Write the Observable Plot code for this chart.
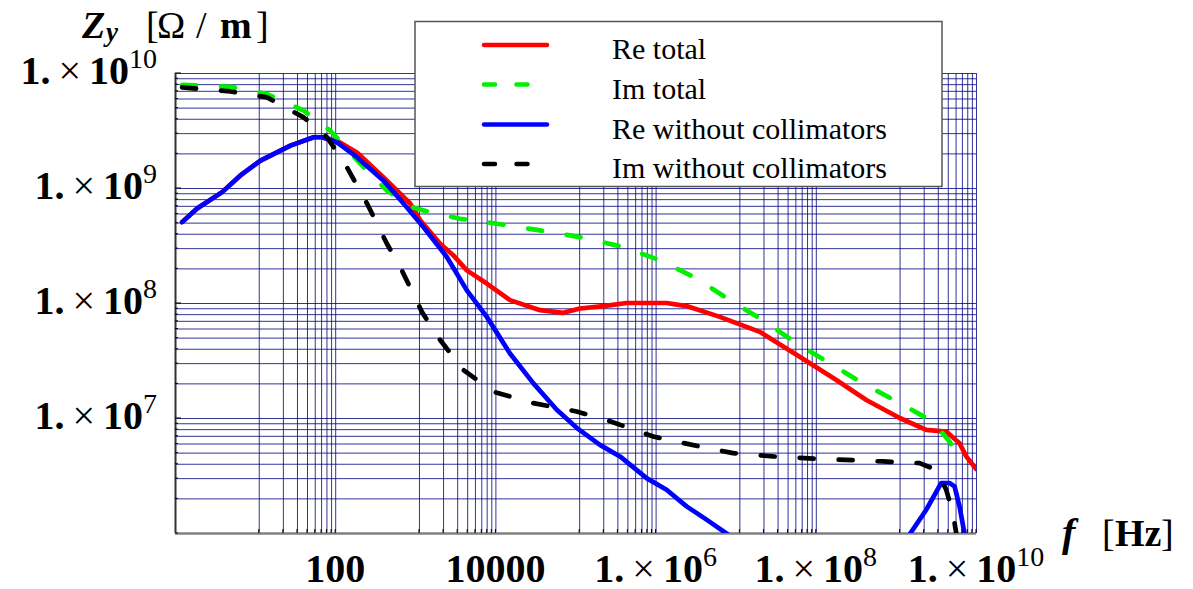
<!DOCTYPE html>
<html><head><meta charset="utf-8">
<script src="https://cdn.jsdelivr.net/npm/d3@7"></script>
<script src="https://cdn.jsdelivr.net/npm/@observablehq/plot@0.6"></script>
<style>
body{margin:0;background:#fff;}
#chart{position:relative;width:1193px;height:589px;}
</style></head><body><div id="chart"></div>
<script>
// ---- data ----
const reTotalF = [1.21,1.86,3.82,6.46,11.5,27.2,53,67.5,104,184,396,851,1135,2014,2950,4340,7700,15000,35600,69500,1.12e5,2.19e5,4.29e5,1.35e6,2.4e6,6.25e6,1.97e7,6.2e7,1.78e8,4.21e8,1.10e9,2.36e9,4.19e9,6.14e9,7.44e9,9.9e9];
const reTotalZ = [5.1e8,6.7e8,9.3e8,1.30e9,1.75e9,2.36e9,2.79e9,2.79e9,2.6e9,2.06e9,1.25e9,7.4e8,5.3e8,3.31e8,2.62e8,1.94e8,1.49e8,1.07e8,8.75e7,8.3e7,9.05e7,9.5e7,1.01e8,1.01e8,9.5e7,7.65e7,5.67e7,3.44e7,2.16e7,1.45e7,1.01e7,7.96e6,7.7e6,6.1e6,4.68e6,3.63e6];

const imTotalF = [1.21,4.85,13.9,39.8,85.7,203,436,894,1510,3580,10300,35600,1.12e5,3.89e5,1.11e6,3.2e6,8.3e6,2.16e7,5.65e7,1.47e8,3.82e8,1.10e9,2.85e9,4.6e9,5.85e9];
const imTotalZ = [7.98e9,7.67e9,6.63e9,4.75e9,3.18e9,1.64e9,9.6e8,6.9e8,6.2e8,5.46e8,4.94e8,4.32e8,3.78e8,3.10e8,2.38e8,1.65e8,1.07e8,7.16e7,4.5e7,3.03e7,2.02e7,1.36e7,9.4e6,6.3e6,4.83e6];

const reWithoutLowF = [1.21,1.86,3.82,6.46,11.5,27.2,53,67.5,104,184,396,703,1250,2440,4340,7700,15000,29400,57500,1.02e5,1.99e5,3.54e5,7.6e5,1.35e6,2.4e6,4.26e6,7.57e6,1.58e7];
const reWithoutLowZ = [5.1e8,6.7e8,9.3e8,1.30e9,1.75e9,2.36e9,2.79e9,2.79e9,2.52e9,1.87e9,1.17e9,7.4e8,4.6e8,2.54e8,1.30e8,7.65e7,3.68e7,2.02e7,1.19e7,8.3e6,5.9e6,4.68e6,3.03e6,2.40e6,1.72e6,1.32e6,1.0e6,7.1e5];
const reWithoutHighF = [1.26e9,1.46e9,2.36e9,3.63e9,4.6e9,5.32e9,6.14e9,7.08e9,7.5e9];
const reWithoutHighZ = [8.3e5,9.8e5,1.61e6,2.75e6,2.75e6,2.57e6,1.72e6,1.0e6,8.0e5];

const imWithoutF = [1.21,4.85,13.9,39.8,77.9,138,246,436,639,1190,2014,3940,9310,29400,1.02e5,2.41e5,9.2e5,3.52e6,9.15e6,2.88e7,1.0e8,6.8e8,1.95e9,3.15e9,4.19e9,5.07e9,5.58e9,5.8e9];
const imWithoutZ = [7.57e9,6.98e9,6.2e9,4.15e9,2.79e9,1.53e9,7.4e8,3.31e8,2.08e8,8.46e7,4.81e7,2.64e7,1.71e7,1.36e7,1.15e7,9.7e6,6.97e6,5.7e6,5.0e6,4.68e6,4.47e6,4.23e6,4.09e6,3.58e6,2.40e6,1.51e6,1.01e6,8e5];

const seriesNames = ["Re total","Im total","Re without collimators","Im without collimators"];
const seriesColors = ["#ff0000","#00f000","#0000ff","#000000"];
const seriesDashed = [false,true,false,true];

const xTickValues = [1e2,1e4,1e6,1e8,1e10];
const xTickLabels = ["100","10000","1.×10^6","1.×10^8","1.×10^10"];
const yTickValues = [1e7,1e8,1e9,1e10];
const yTickLabels = ["1.×10^7","1.×10^8","1.×10^9","1.×10^10"];

// grid (as drawn in the picture): x lines at m/9 of each labelled decade, y lines at m·10^k
const gridXDecades = [1e2,1e4,1e6,1e8,1e10];
const gridXMantissas = [1,2,3,4,5,6,7,8,9];
const gridYDecades = [1e6,1e7,1e8,1e9];
const gridYMantissas = [1,2,3,4,5,6,7,8,9];

// ---- build tables ----
const rows = (F, Z) => F.map((f, i) => ({f, z: Z[i]}));
const gridX = gridXDecades.flatMap(d => gridXMantissas.map(m => d * m / 9));
const gridY = gridYDecades.flatMap(d => gridYMantissas.map(m => d * m)).concat([1e10]);

const lineOpts = (i) => ({
  x: "f", y: "z", stroke: seriesColors[i], strokeWidth: 4.7, clip: true,
  strokeLinecap: "round", strokeLinejoin: "round",
  ...(seriesDashed[i] ? {strokeDasharray: "14,25"} : {})
});

const plot = Plot.plot({
  width: 1193, height: 589,
  marginLeft: 175, marginRight: 217, marginTop: 73, marginBottom: 56,
  x: {type: "log", domain: [1, 1e10], axis: null},
  y: {type: "log", domain: [1e6, 1e10], axis: null},
  style: {background: "white", fontFamily: "Liberation Serif", overflow: "visible"},
  marks: [
    Plot.ruleX(gridX, {stroke: "#000080", strokeOpacity: 0.8, strokeWidth: 1}),
    Plot.ruleY(gridY, {stroke: "#000080", strokeOpacity: 0.8, strokeWidth: 1}),
    Plot.ruleX([1], {stroke: "#333", strokeWidth: 2}),
    Plot.ruleY([1e6], {stroke: "#808080", strokeWidth: 2.5}),
    Plot.line(rows(reTotalF, reTotalZ), lineOpts(0)),
    Plot.line(rows(imTotalF, imTotalZ), lineOpts(1)),
    Plot.line(rows(reWithoutLowF, reWithoutLowZ), lineOpts(2)),
    Plot.line(rows(reWithoutHighF, reWithoutHighZ), lineOpts(2)),
    Plot.line(rows(imWithoutF, imWithoutZ), lineOpts(3))
  ]
});
document.getElementById("chart").appendChild(plot);

const svg = d3.select(plot);
const sx = v => plot.scale("x").apply(v);
const sy = v => plot.scale("y").apply(v);
const FONT = "Liberation Serif";

// small axis ticks
const tk = svg.append("g").attr("stroke", "#000").attr("stroke-width", 1);
gridY.forEach(v => tk.append("line").attr("x1", 175).attr("x2", yTickValues.includes(v) ? 181 : 178).attr("y1", sy(v)).attr("y2", sy(v)));
gridX.forEach(v => tk.append("line").attr("x1", sx(v)).attr("x2", sx(v)).attr("y1", 533).attr("y2", 529));

function txt(g, x, y, size, s, opts = {}) {
  const t = g.append("text").attr("x", x).attr("y", y)
    .style("font-family", FONT).style("font-size", size + "px")
    .style("text-anchor", opts.anchor || "start").style("fill", "#000")
    .style("font-weight", opts.bold ? "bold" : "normal")
    .style("font-style", opts.italic ? "italic" : "normal");
  if (s != null) t.text(s);
  return t;
}

// tick labels with superscripts
function writeLabel(g, label, x, y, anchor) {
  const t = txt(g, x, y, 40, null, {anchor});
  const m = label.match(/^1\.×10\^(\d+)$/);
  if (!m) { t.append("tspan").style("font-weight", "bold").text(label); return; }
  t.append("tspan").style("font-weight", "bold").text("1.");
  t.append("tspan").attr("dx", 8).text("×");
  t.append("tspan").attr("dx", 8).style("font-weight", "bold").text("10");
  t.append("tspan").attr("dy", -16).style("font-size", "28px").text(m[1]);
}
const gl = svg.append("g");
xTickValues.forEach((v, i) => writeLabel(gl, xTickLabels[i], sx(v), 582, "middle"));
yTickValues.forEach((v, i) => writeLabel(gl, yTickLabels[i], 157, sy(v) + 10.5, "end"));

// axis titles
const at = svg.append("g");
txt(at, 82, 38, 38, "Z", {bold: true, italic: true});
txt(at, 106, 41, 27, "y", {bold: true, italic: true});
txt(at, 146, 38, 38, "[");
txt(at, 157, 38, 38, "Ω");
txt(at, 196, 38, 38, "/");
txt(at, 220, 38, 38, "m", {bold: true});
txt(at, 256, 38, 38, "]");

txt(at, 1062, 546, 40, "f", {bold: true, italic: true});
txt(at, 1102, 546, 38, "[");
txt(at, 1115, 546, 38, "Hz", {bold: true});
txt(at, 1161, 546, 38, "]");

// legend
const lg = svg.append("g");
lg.append("rect").attr("x", 415).attr("y", 21.5).attr("width", 527).attr("height", 165)
  .attr("fill", "#fff").attr("stroke", "#555").attr("stroke-width", 1.5);
const rowY = [45, 84.5, 124.5, 164];
seriesNames.forEach((name, i) => {
  const ln = lg.append("line").attr("x1", 484).attr("x2", seriesDashed[i] ? 531 : 547)
    .attr("y1", rowY[i]).attr("y2", rowY[i]).attr("stroke", seriesColors[i])
    .attr("stroke-width", 4.5).attr("stroke-linecap", "round");
  if (seriesDashed[i]) ln.attr("stroke-dasharray", "11,21.5");
  txt(lg, 612, rowY[i] + 14, 30, name);
});
</script></body></html>
